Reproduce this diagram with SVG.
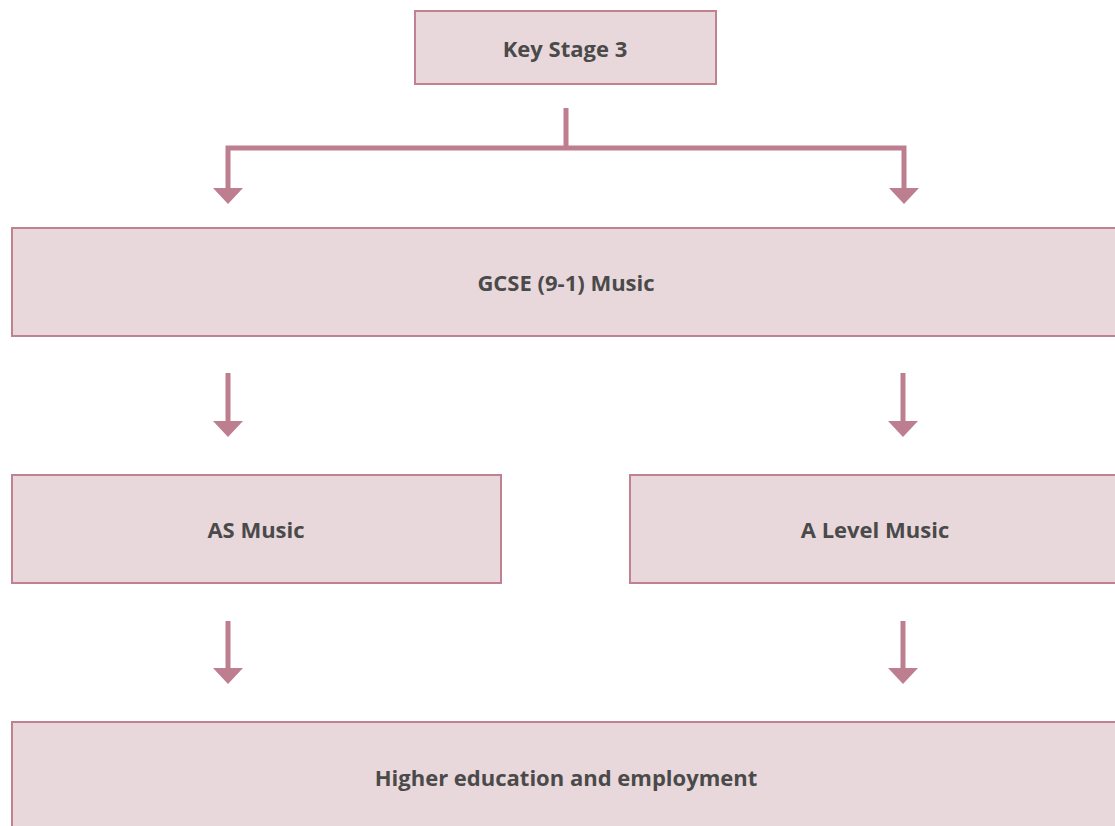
<svg xmlns="http://www.w3.org/2000/svg" width="1115" height="826" viewBox="0 0 1115 826">
<style>
.box{fill:#e9d8db;stroke:#c08292;stroke-width:2}
.lbl{font-family:"Open Sans","Liberation Sans",sans-serif;font-weight:bold;font-size:22px;fill:#4a4a4a;text-anchor:middle}
.ln{fill:none;stroke:#bd7f90;stroke-width:5}
.hd{fill:#bd7f90}
</style>
<rect width="1115" height="826" fill="#ffffff"/>
<g id="connectors">
<path class="ln" d="M566 108V148M228 189V148H904V189"/>
<polygon class="hd" points="213,188 243,188 228,204"/>
<polygon class="hd" points="889,188 919,188 904,204"/>
<line class="ln" x1="228" y1="373" x2="228" y2="422"/>
<polygon class="hd" points="213,421 243,421 228,437"/>
<line class="ln" x1="903" y1="373" x2="903" y2="422"/>
<polygon class="hd" points="888,421 918,421 903,437"/>
<line class="ln" x1="228" y1="621" x2="228" y2="669"/>
<polygon class="hd" points="213,668 243,668 228,684"/>
<line class="ln" x1="903" y1="621" x2="903" y2="669"/>
<polygon class="hd" points="888,668 918,668 903,684"/>
</g>
<g id="ks3">
<rect class="box" x="415" y="11" width="301" height="73"/>
<text class="lbl" x="565" y="57">Key Stage 3</text>
</g>
<g id="gcse">
<rect class="box" x="12" y="228" width="1112" height="108"/>
<text class="lbl" x="566" y="291">GCSE (9-1) Music</text>
</g>
<g id="as">
<rect class="box" x="12" y="475" width="489" height="108"/>
<text class="lbl" x="256" y="538">AS Music</text>
</g>
<g id="alevel">
<rect class="box" x="630" y="475" width="494" height="108"/>
<text class="lbl" x="875" y="538">A Level Music</text>
</g>
<g id="higher">
<rect class="box" x="12" y="722" width="1112" height="112"/>
<text class="lbl" x="566" y="786">Higher education and employment</text>
</g>
</svg>
